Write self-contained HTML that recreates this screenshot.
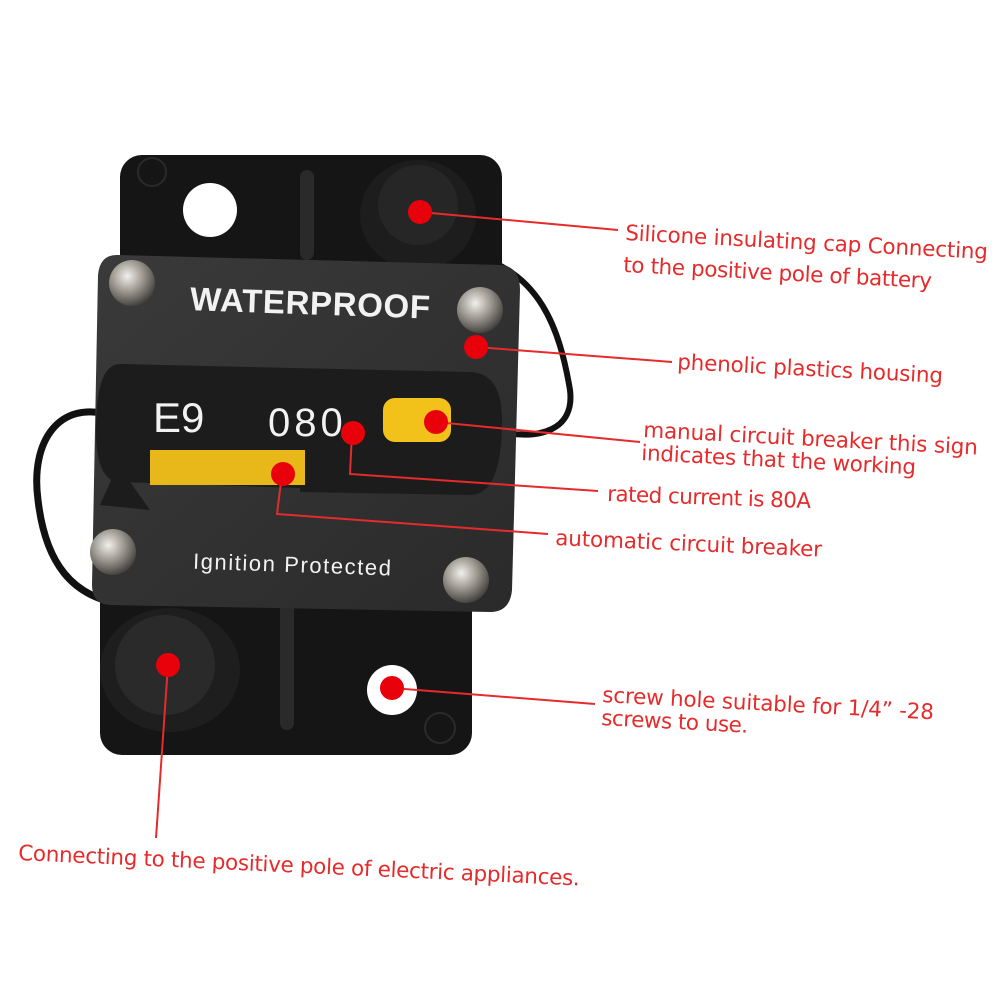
<!DOCTYPE html>
<html><head><meta charset="utf-8"><style>
body{margin:0;background:#fff;width:1000px;height:1000px;overflow:hidden}
svg{display:block}
.t{font-family:"DejaVu Sans","Liberation Sans",sans-serif;fill:#e52b2b;font-size:21.5px}
</style></head><body>
<svg width="1000" height="1000" viewBox="0 0 1000 1000">
<defs>
<radialGradient id="sc" cx="0.4" cy="0.35" r="0.7"><stop offset="0" stop-color="#f2f0ec"/><stop offset="0.5" stop-color="#9a958d"/><stop offset="1" stop-color="#3a3835"/></radialGradient>
<linearGradient id="hs" x1="0" y1="0" x2="1" y2="1"><stop offset="0" stop-color="#3a3a3a"/><stop offset="1" stop-color="#2a2a2a"/></linearGradient>
</defs>
<path d="M470 255 C540 270 560 330 570 390 C575 430 540 440 500 432" fill="none" stroke="#111" stroke-width="6"/>
<path d="M110 415 C60 400 30 440 38 500 C45 560 70 600 130 605" fill="none" stroke="#111" stroke-width="7"/>
<rect x="120" y="155" width="382" height="150" rx="22" fill="#151515"/>
<rect x="100" y="560" width="372" height="195" rx="22" fill="#151515"/>
<circle cx="210" cy="210" r="27" fill="#fff"/>
<circle cx="152" cy="172" r="14" fill="none" stroke="#2a2a2a" stroke-width="2"/>
<rect x="300" y="170" width="14" height="90" rx="7" fill="#2a2a2a"/>
<rect x="280" y="600" width="14" height="130" rx="7" fill="#2a2a2a"/>
<circle cx="392" cy="690" r="25" fill="#fff"/>
<circle cx="440" cy="728" r="15" fill="none" stroke="#2a2a2a" stroke-width="2"/>
<ellipse cx="418" cy="215" rx="58" ry="55" fill="#1d1d1d"/>
<circle cx="418" cy="205" r="40" fill="#262626"/>
<ellipse cx="170" cy="670" rx="70" ry="62" fill="#1e1e1e"/>
<circle cx="165" cy="665" r="50" fill="#2a2a2a"/>
<path d="M118 255 L500 265 Q520 266 520 290 L512 590 Q510 612 490 612 L110 605 Q92 604 92 585 L98 275 Q100 254 118 255Z" fill="url(#hs)"/>
<path d="M120 364 L470 372 Q502 373 502 420 Q502 495 470 495 L300 492 L300 488 L120 482 Q96 482 96 430 Q96 364 120 364Z" fill="#1c1c1c"/>
<rect x="150" y="450" width="155" height="35" fill="#e8b81a"/>
<path d="M100 505 L118 465 L150 510 Z" fill="#1c1c1c"/>
<rect x="383" y="398" width="68" height="44" rx="12" fill="#f2c21b"/>
<text x="190" y="314" font-family="Liberation Sans,sans-serif" font-weight="bold" font-size="33" fill="#f2f2f2" textLength="240" transform="rotate(2 300 305)">WATERPROOF</text>
<text x="153" y="432" font-family="Liberation Sans,sans-serif" font-size="42" fill="#f2f2f2">E9</text>
<text x="268" y="436" font-family="Liberation Sans,sans-serif" font-size="40" fill="#f2f2f2" letter-spacing="4">080</text>
<text x="193" y="572" font-family="Liberation Sans,sans-serif" font-size="22" fill="#f2f2f2" textLength="198" transform="rotate(2 290 565)">Ignition Protected</text>
<circle cx="132" cy="283" r="23" fill="url(#sc)"/>
<circle cx="480" cy="310" r="23" fill="url(#sc)"/>
<circle cx="113" cy="552" r="23" fill="url(#sc)"/>
<circle cx="466" cy="580" r="23" fill="url(#sc)"/>
<g stroke="#e52b2b" stroke-width="2" fill="none">
<line x1="420" y1="212" x2="618" y2="230"/>
<line x1="476" y1="347" x2="672" y2="362"/>
<line x1="436" y1="422" x2="640" y2="442"/>
<polyline points="352,433 350,474 598,491"/>
<polyline points="282,474 277,514 548,534"/>
<line x1="392" y1="688" x2="595" y2="704"/>
<line x1="168" y1="665" x2="156" y2="838"/>
</g>
<g fill="#e8000b">
<circle cx="420" cy="212" r="12"/><circle cx="476" cy="347" r="12"/><circle cx="436" cy="422" r="12"/>
<circle cx="353" cy="433" r="12"/><circle cx="283" cy="474" r="12"/><circle cx="392" cy="688" r="12"/><circle cx="168" cy="665" r="12"/>
</g>
<text class="t" x="625" y="240" textLength="363" transform="rotate(3 625 240)">Silicone insulating cap Connecting</text>
<text class="t" x="623" y="272" textLength="309" transform="rotate(3 623 272)">to the positive pole of battery</text>
<text class="t" x="677" y="369" textLength="266" transform="rotate(3 677 369)">phenolic plastics housing</text>
<text class="t" x="643" y="437" textLength="335" transform="rotate(3 643 437)">manual circuit breaker this  sign</text>
<text class="t" x="641" y="460" textLength="275" transform="rotate(3 641 460)">indicates that the working</text>
<text class="t" x="607" y="501" textLength="204" transform="rotate(2 607 501)">rated current is 80A</text>
<text class="t" x="555" y="545" textLength="267" transform="rotate(2.5 555 545)">automatic circuit breaker</text>
<text class="t" x="602" y="702" textLength="332" transform="rotate(3 602 702)">screw hole suitable for 1/4”  -28</text>
<text class="t" x="601" y="725" textLength="147" transform="rotate(3 601 725)">screws to use.</text>
<text class="t" x="18" y="860" textLength="562" transform="rotate(2.6 18 860)">Connecting to the positive pole of electric appliances.</text>
</svg>
</body></html>
